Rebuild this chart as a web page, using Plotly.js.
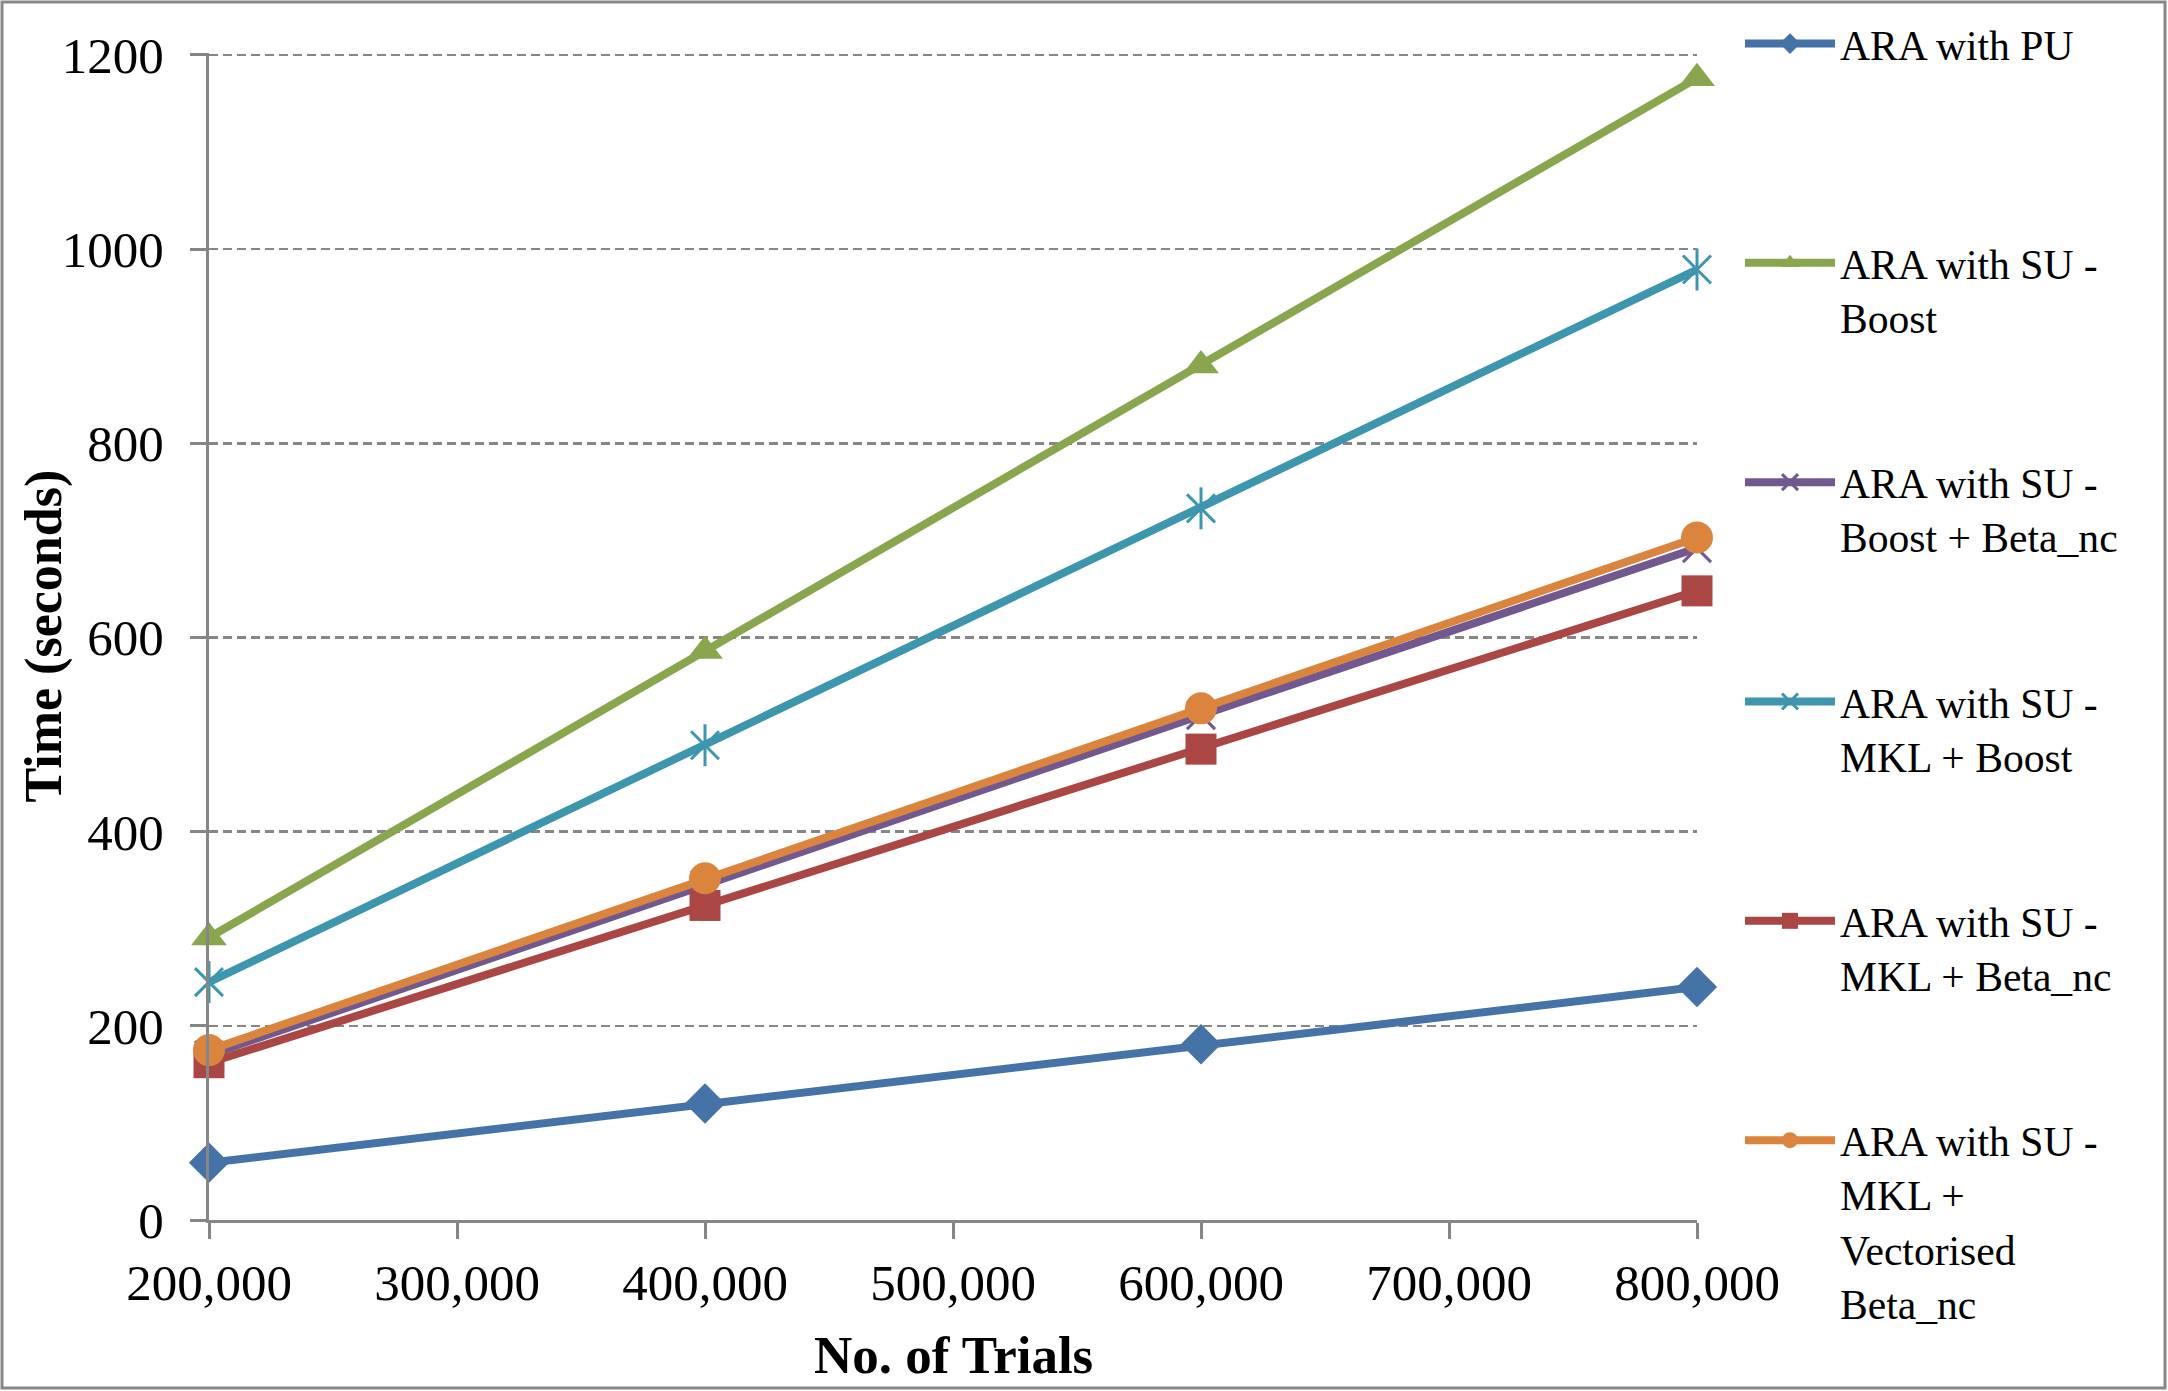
<!DOCTYPE html>
<html>
<head>
<meta charset="utf-8">
<script src="https://cdn.plot.ly/plotly-3.0.1.min.js"></script>
<style>
  html, body { margin: 0; padding: 0; background: #fff; }
  #chart { width: 2168px; height: 1391px; }
</style>
</head>
<body>
<div id="chart"></div>
<script>
// trials on the x axis
var trials = [200000, 400000, 600000, 800000];

// time in seconds, one array per series
var araPU = [59, 120, 181, 240];
var suBoost = [291, 586, 880, 1176];
var suBoostBeta = [170, 345, 520, 692];
var suMklBoost = [245, 489, 733, 979];
var suMklBeta = [162, 324, 485, 648];
var suMklVecBeta = [175, 352, 527, 703];

// legend labels, padded to four lines so the entries sit evenly
var names = [
  "ARA with PU<br> <br> <br> ",
  "ARA with SU -<br>Boost<br> <br> ",
  "ARA with SU -<br>Boost + Beta_nc<br> <br> ",
  "ARA with SU -<br>MKL + Boost<br> <br> ",
  "ARA with SU -<br>MKL + Beta_nc<br> <br> ",
  "ARA with SU -<br>MKL +<br>Vectorised<br>Beta_nc"
];

var xTitle = "No. of Trials";
var yTitle = "Time (seconds)";

var yMax = 1202; // a hair above 1200 so the top grid line is kept

var W = 2168, H = 1391;
var L = 209, R = 471, T = 53, B = 171;
var pw = W - L - R, ph = H - T - B;

var serif = "Liberation Serif, Times New Roman, serif";
var grey = "#868686";

function series(y, name, color, symbol, open, size) {
  return {
    x: trials, y: y, name: name,
    type: "scatter", mode: "lines+markers",
    cliponaxis: false,
    line: { color: color, width: 8 },
    marker: {
      symbol: symbol, size: size, color: color,
      line: { color: color, width: open ? 3 : 0 }
    }
  };
}

var data = [
  series(araPU, names[0], "#4572A7", "diamond", false, 31),
  series(suBoost, names[1], "#89A54E", "triangle-up", false, 31),
  series(suBoostBeta, names[2], "#71588F", "x-thin-open", true, 28),
  series(suMklBoost, names[3], "#3D96AE", "x-thin-open", true, 28),
  series(suMklBeta, names[4], "#AA4643", "square", false, 31),
  series(suMklVecBeta, names[5], "#DB843D", "circle", false, 32)
];
// vertical stroke for the teal star marker
data.splice(4, 0, {
  x: trials, y: suMklBoost, type: "scatter", mode: "markers",
  showlegend: false, cliponaxis: false, hoverinfo: "skip",
  marker: { symbol: "line-ns-open", size: 30, color: "#3D96AE",
            line: { color: "#3D96AE", width: 3 } }
});

// pixel helpers for placing text outside the plot area
function px(x) { return (x - L) / pw; }
function py(y) { return (H - B - y) / ph; }

var layout = {
  width: W, height: H,
  margin: { l: L, r: R, t: T, b: B, autoexpand: false },
  paper_bgcolor: "#fff",
  plot_bgcolor: "#fff",
  font: { family: serif, color: "#000" },
  showlegend: true,
  legend: {
    yref: "container",
    x: px(1740), y: 1 - 10 / H,
    xanchor: "left", yanchor: "top",
    valign: "top",
    itemwidth: 90,
    maxheight: 1380,
    font: { family: serif, size: 41.6, color: "#000" },
    bgcolor: "rgba(0,0,0,0)"
  },
  xaxis: {
    range: [200000, 800000],
    dtick: 100000, tick0: 200000,
    tickformat: ",d",
    showgrid: false, zeroline: false,
    showline: true, linecolor: grey, linewidth: 3,
    ticks: "outside", ticklen: 16, tickwidth: 3, tickcolor: grey,
    tickfont: { family: serif, size: 51, color: "#000" }
  },
  yaxis: {
    range: [0, yMax], dtick: 200, tick0: 0,
    showgrid: true, gridcolor: grey, gridwidth: 2.5, griddash: "9px,5px",
    zeroline: false,
    showline: true, linecolor: grey, linewidth: 3,
    ticks: "outside", ticklen: 16, tickwidth: 3, tickcolor: grey,
    ticklabelstandoff: 16,
    tickfont: { family: serif, size: 51, color: "#000" }
  },
  annotations: [
    { text: "<b>" + xTitle + "</b>", xref: "paper", yref: "paper",
      x: 0.5, y: py(1355), xanchor: "center", yanchor: "middle",
      showarrow: false, font: { family: serif, size: 53, color: "#000" } },
    { text: "<b>" + yTitle + "</b>", xref: "paper", yref: "paper",
      x: px(43), y: 0.5, xanchor: "center", yanchor: "middle",
      textangle: -90,
      showarrow: false, font: { family: serif, size: 52, color: "#000" } }
  ],
  shapes: [{
    type: "rect", xref: "paper", yref: "paper",
    x0: px(2), x1: px(W - 3),
    y0: py(H - 3), y1: py(2),
    line: { color: "#878787", width: 3 }, fillcolor: "rgba(0,0,0,0)"
  }]
};

Plotly.newPlot("chart", data, layout, { displayModeBar: false, staticPlot: true });
</script>
</body>
</html>
